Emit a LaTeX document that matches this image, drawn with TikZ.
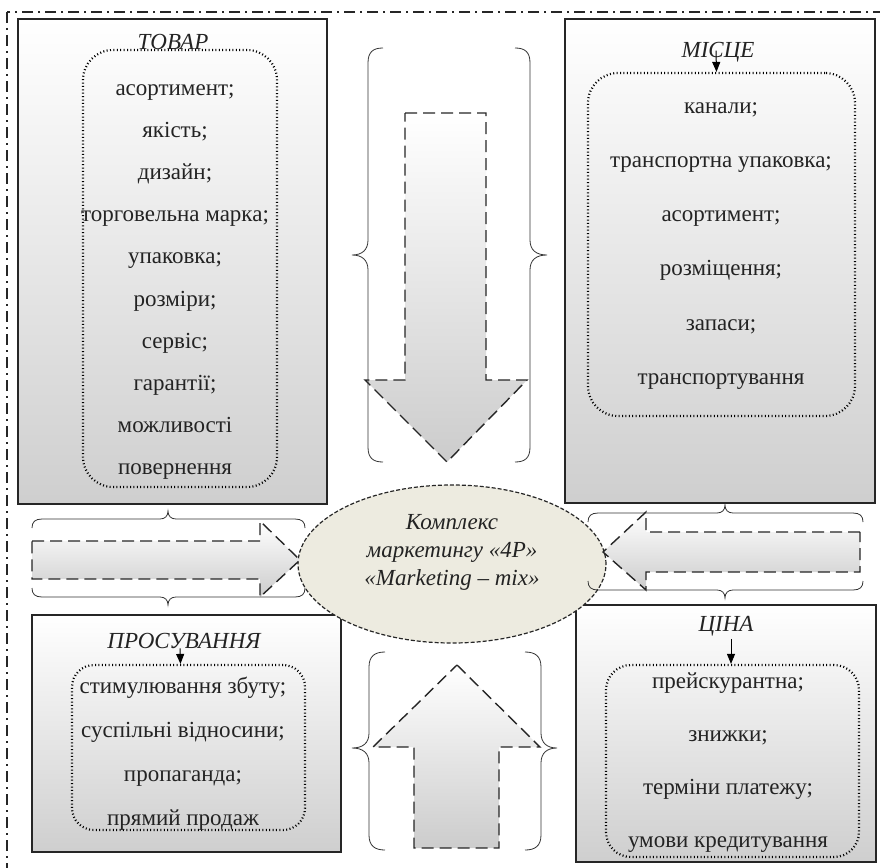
\documentclass[tikz,border=0pt]{standalone}
\usepackage{fontspec}
\setmainfont{Liberation Serif}
\usetikzlibrary{arrows.meta,shapes.geometric}
\definecolor{ellfill}{RGB}{237,235,224}
\definecolor{ink}{RGB}{35,35,35}
\begin{document}
\begin{tikzpicture}[x=1pt,y=-1pt,
  bigbox/.style={draw=black!85, line width=1.6pt, top color=white, bottom color=black!19, inner sep=0pt},
  dotbox/.style={draw=black, line width=2.2pt, dash pattern=on 1pt off 2.4pt, inner sep=0pt},
  item/.style={font=\fontsize{23}{27}\selectfont, text=ink, inner sep=0pt, anchor=base},
  ttl/.style={font=\fontsize{23}{27}\selectfont\itshape, text=ink, inner sep=0pt, anchor=base},
  bigarrow/.style={draw=black!85, line width=1.4pt, dash pattern=on 12pt off 6pt, top color=white, bottom color=black!20},
  bracestyle/.style={draw=black!80, line width=0.8pt},
  titlearrow/.style={draw=black, line width=1pt, -{Triangle[width=8pt,length=10pt]}},
  outerline/.style={draw=black!85, line width=1.4pt, dash pattern=on 11pt off 5pt on 2pt off 5pt}
]
\useasboundingbox (0,0) rectangle (880,867);
\clip (0,0) rectangle (880,867);
\fill[white] (0,0) rectangle (880,867);
% outer frame
\draw[outerline] (7,12) rectangle (895,885);

% big boxes
\node[bigbox, minimum width=309pt, minimum height=485pt] (tovar) at (172.5,261.5) {};
\node[bigbox, minimum width=310pt, minimum height=484pt] (misce) at (720,261) {};
\node[bigbox, minimum width=309pt, minimum height=237pt] (prosuv) at (186.5,733.5) {};
\node[bigbox, minimum width=300pt, minimum height=257pt] (cina) at (726,733.5) {};

% dotted inner boxes
\node[dotbox, rounded corners=30pt, minimum width=194pt, minimum height=437pt] (tdot) at (180,268.5) {};
\node[dotbox, rounded corners=30pt, minimum width=267pt, minimum height=343pt] (mdot) at (721.5,244.5) {};
\node[dotbox, rounded corners=22pt, minimum width=233pt, minimum height=165pt] (pdot) at (188.5,747.5) {};
\node[dotbox, rounded corners=25pt, minimum width=253pt, minimum height=192pt] (cdot) at (732.5,761) {};

% titles
\node[ttl] (ttitle) at (173,50) {ТОВАР};
\node[ttl] (mtitle) at (718,58) {МІСЦЕ};
\node[ttl] (ptitle) at (184,648) {ПРОСУВАННЯ};
\node[ttl] (ctitle) at (726,631) {ЦІНА};

\draw[titlearrow] ([xshift=-2pt,yshift=2pt]mtitle.center) -- ([xshift=-5pt]mdot.north);
\draw[titlearrow] ([xshift=-4pt]ptitle.south) -- ([xshift=-8pt]pdot.north);
\draw[titlearrow] ([xshift=5pt,yshift=-3pt]ctitle.south) -- ([xshift=-1.5pt]cdot.north);

% items
\foreach \t [count=\i from 0] in {{асортимент;},{якість;},{дизайн;},{торговельна марка;},{упаковка;},{розміри;},{сервіс;},{гарантії;},{можливості},{повернення}}
  \node[item] (ti\i) at (175,{95+42.2*\i}) {\t};
\foreach \t [count=\i from 0] in {{канали;},{транспортна упаковка;},{асортимент;},{розміщення;},{запаси;},{транспортування}}
  \node[item] (mi\i) at (721,{113+54.3*\i}) {\t};
\foreach \t [count=\i from 0] in {{стимулювання збуту;},{суспільні відносини;},{пропаганда;},{прямий продаж}}
  \node[item] (pi\i) at (183,{693+44*\i}) {\t};
\foreach \t [count=\i from 0] in {{прейскурантна;},{знижки;},{терміни платежу;},{умови кредитування}}
  \node[item] (ci\i) at (728,{688+53.3*\i}) {\t};

% central ellipse
\node[ellipse, draw=black!85, line width=1.2pt, dash pattern=on 4pt off 2pt, fill=ellfill, minimum width=308pt, minimum height=158pt] (core) at (452,564) {};
\node[align=center, font=\fontsize{23}{28}\selectfont\itshape, text=ink, inner sep=0pt] (coretext) at (452,552) {Комплекс\\маркетингу «4P»\\«Marketing – mix»};

% big arrows
\path[bigarrow] (405,113) -- (486,113) -- (486,380) -- (527,380) -- (447,462) -- (365,380) -- (405,380) -- cycle;
\path[bigarrow] (457,665) -- (540,747) -- (499,747) -- (499,848) -- (414,848) -- (414,747) -- (373,747) -- cycle;
\path[bigarrow] (32,541) -- (260,541) -- (260,521) -- (300,560) -- (260,597) -- (260,579) -- (32,579) -- cycle;
\path[bigarrow] (860,532) -- (646,532) -- (646,512) -- (603,552) -- (646,590) -- (646,572) -- (860,572) -- cycle;

% vertical braces (top)
\draw[bracestyle] (383,48) .. controls (373,48) and (368,52) .. (368,63) -- (368,240) .. controls (368,250) and (362,255) .. (352,255) .. controls (362,255) and (368,260) .. (368,270) -- (368,447) .. controls (368,458) and (373,462) .. (383,462);
\draw[bracestyle] (515,48) .. controls (525,48) and (530,52) .. (530,63) -- (530,240) .. controls (530,250) and (536,255) .. (547,255) .. controls (536,255) and (530,260) .. (530,270) -- (530,447) .. controls (530,458) and (525,462) .. (515,462);
% vertical braces (bottom)
\draw[bracestyle] (385,652) .. controls (375,652) and (369,656) .. (369,667) -- (369,733) .. controls (369,743) and (363,748) .. (352,748) .. controls (363,748) and (369,753) .. (369,763) -- (369,835) .. controls (369,846) and (375,850) .. (385,850);
\draw[bracestyle] (525,652) .. controls (535,652) and (541,656) .. (541,667) -- (541,733) .. controls (541,743) and (547,748) .. (557,748) .. controls (547,748) and (541,753) .. (541,763) -- (541,835) .. controls (541,846) and (535,850) .. (525,850);
% horizontal braces (left)
\draw[bracestyle] (32,528) .. controls (32,522) and (35,519) .. (42,519) -- (160,519) .. controls (165,519) and (168,516) .. (168,511) .. controls (168,516) and (171,519) .. (176,519) -- (295,519) .. controls (302,519) and (305,522) .. (305,528);
\draw[bracestyle] (32,588) .. controls (32,594) and (35,597) .. (42,597) -- (160,597) .. controls (165,597) and (168,600) .. (168,605) .. controls (168,600) and (171,597) .. (176,597) -- (295,597) .. controls (302,597) and (305,594) .. (305,588);
% horizontal braces (right)
\draw[bracestyle] (588,522) .. controls (588,516) and (591,513) .. (598,513) -- (717,513) .. controls (722,513) and (725,510) .. (725,505) .. controls (725,510) and (728,513) .. (733,513) -- (853,513) .. controls (860,513) and (863,516) .. (863,522);
\draw[bracestyle] (588,581) .. controls (588,587) and (591,590) .. (598,590) -- (717,590) .. controls (722,590) and (725,593) .. (725,598) .. controls (725,593) and (728,590) .. (733,590) -- (853,590) .. controls (860,590) and (863,587) .. (863,581);
\end{tikzpicture}
\end{document}
